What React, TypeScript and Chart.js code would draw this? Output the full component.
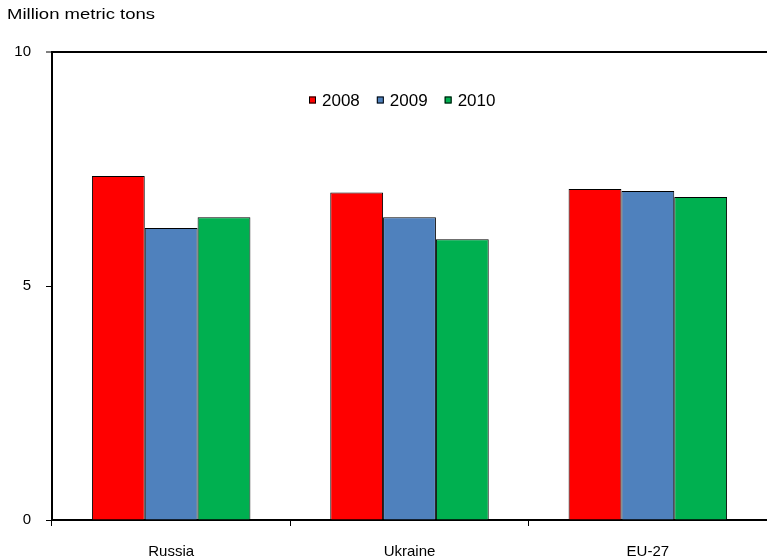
import React, { useEffect, useRef } from "react";
import { Chart, registerables } from "chart.js";

Chart.register(...registerables);

const categories = ["Russia", "Ukraine", "EU-27"];
const seriesLabels = ["2008", "2009", "2010"];
const values2008 = [7.35, 7.0, 7.07];
const values2009 = [6.24, 6.47, 7.03];
const values2010 = [6.47, 6.0, 6.9];
const seriesColors = ["#FF0000", "#4F81BD", "#00B050"];
const yTicks = [0, 5, 10];
const unitLabel = "Million metric tons";

const FONT = "'Liberation Sans', Arial, sans-serif";

const overlayPlugin = {
  id: "overlay",
  afterDraw(chart: any) {
    const { ctx, chartArea } = chart;
    ctx.save();
    // unit title (stretched horizontally like the reference)
    ctx.fillStyle = "#000";
    ctx.font = `15px ${FONT}`;
    ctx.textBaseline = "middle";
    ctx.textAlign = "left";
    const tw = ctx.measureText(unitLabel).width;
    const sx = 148 / tw;
    ctx.save();
    ctx.translate(7, 15);
    ctx.scale(sx, 1);
    ctx.fillText(unitLabel, 0, 0);
    ctx.restore();
    // legend inside plot
    ctx.font = `17px ${FONT}`;
    const box = 7;
    const gap = 6;
    const spacing = 17;
    const items = chart.data.datasets.map((d: any) => ({
      label: d.label,
      color: d.backgroundColor,
      w: box + gap + ctx.measureText(d.label).width,
    }));
    const total = items.reduce((s: number, it: any) => s + it.w, 0) + spacing * (items.length - 1);
    const cx = (chartArea.left + chartArea.right) / 2 - 7;
    let x = Math.round(cx - total / 2);
    const y = chartArea.top + 48;
    items.forEach((it: any) => {
      ctx.fillStyle = it.color;
      ctx.fillRect(x, y - box / 2, box, box);
      ctx.strokeStyle = "#000";
      ctx.lineWidth = 1;
      ctx.strokeRect(x + 0.5, y - box / 2 + 0.5, box - 1, box - 1);
      ctx.fillStyle = "#000";
      ctx.fillText(it.label, x + box + gap, y + 1);
      x += it.w + spacing;
    });
    ctx.restore();
  },
};

export default function App() {
  const ref = useRef<HTMLCanvasElement | null>(null);
  useEffect(() => {
    if (!ref.current) return;
    const allSeries = [values2008, values2009, values2010];
    const chart = new Chart(ref.current, {
      type: "bar",
      data: {
        labels: categories,
        datasets: allSeries.map((vals, i) => ({
          label: seriesLabels[i],
          data: vals,
          backgroundColor: seriesColors[i],
          borderColor: "#000",
          borderWidth: 1,
          barPercentage: 1,
          categoryPercentage: 0.665,
        })),
      },
      options: {
        animation: false,
        responsive: false,
        maintainAspectRatio: false,
        layout: { padding: { top: 52, right: 0, left: 0, bottom: 0 } },
        plugins: { legend: { display: false }, tooltip: { enabled: false }, title: { display: false } },
        scales: {
          x: {
            grid: { drawOnChartArea: false, offset: true, tickLength: 6, tickColor: "#000", tickWidth: 1 },
            border: { color: "#000", width: 2 },
            ticks: { color: "#000", font: { family: FONT, size: 15 }, padding: 17, maxRotation: 0 },
            afterFit(scale: any) {
              scale.height = 40;
            },
          },
          y: {
            min: 0,
            max: 10,
            afterBuildTicks(scale: any) {
              scale.ticks = yTicks.map((v) => ({ value: v }));
            },
            grid: {
              color: (c: any) => (c.tick && c.tick.value === 10 ? "#000" : "rgba(0,0,0,0)"),
              lineWidth: (c: any) => (c.tick && c.tick.value === 10 ? 2 : 1),
              tickLength: 6,
              tickColor: "#000",
              tickWidth: 1,
            },
            border: { color: "#000", width: 2 },
            ticks: { color: "#000", font: { family: FONT, size: 15 }, padding: 15 },
            afterFit(scale: any) {
              scale.width = 52;
            },
          },
        },
      },
      plugins: [overlayPlugin],
    });
    return () => chart.destroy();
  }, []);
  return (
    <div style={{ position: "absolute", left: 0, top: 0, width: 767, height: 560 }}>
      <canvas ref={ref} width={767} height={560} style={{ width: 767, height: 560 }} />
    </div>
  );
}
